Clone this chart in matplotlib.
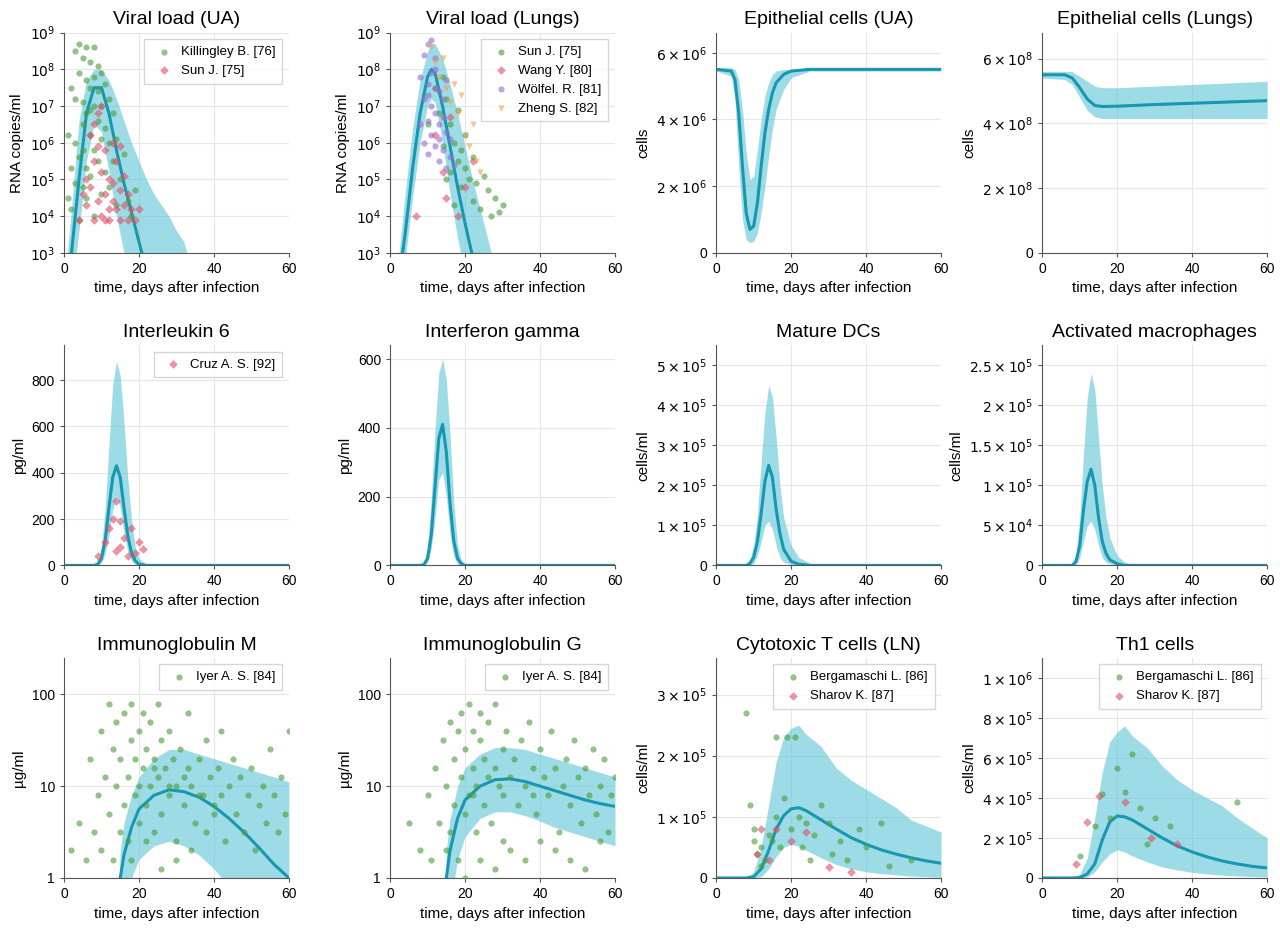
import numpy as np
import matplotlib
matplotlib.use("Agg")
import matplotlib.pyplot as plt
from matplotlib.ticker import FixedLocator, FuncFormatter

plt.rcParams['font.family'] = ['Liberation Sans', 'DejaVu Sans']
LINE = '#1797b0'
BAND = '#5cc6d6'
GREEN = '#4a9e3a'
RED = '#e0506a'
PURPLE = '#9a6bd0'
ORANGE = '#f2a04a'

t_vua = [0, 2, 4, 6, 8, 10, 12, 14, 16, 18, 20, 22, 24, 26, 28, 30, 32, 34]
vua_mean = [2, 3.0, 5.0, 6.8, 7.5, 7.5, 6.8, 5.8, 4.9, 4.1, 3.3, 2.5, 2, 2, 2, 2, 2, 2]
vua_hi = [2, 4.2, 6.6, 7.7, 8.0, 8.0, 7.7, 7.2, 6.6, 6.0, 5.5, 5.0, 4.6, 4.3, 4.0, 3.6, 3.3, 2.5]
vua_lo = [2, 2.0, 3.6, 5.5, 6.5, 6.3, 5.2, 4.0, 3.0, 2.0, 2, 2, 2, 2, 2, 2, 2, 2]

t_vlu = [0, 2, 4, 6, 8, 10, 11, 12, 14, 16, 18, 20, 22, 24, 26, 28]
vlu_mean = [2, 2.0, 3.5, 5.3, 6.8, 7.8, 8.0, 7.9, 7.0, 5.9, 4.8, 3.8, 2.9, 2, 2, 2]
vlu_hi = [2, 2.6, 4.6, 6.4, 7.7, 8.5, 8.7, 8.7, 8.3, 7.6, 6.8, 5.9, 5.0, 4.2, 3.4, 2.6]
vlu_lo = [2, 2.0, 2.8, 4.5, 6.0, 7.0, 7.2, 7.1, 6.0, 4.6, 3.4, 2.4, 2, 2, 2, 2]

t_eua = [0, 4, 5, 6, 7, 8, 9, 10, 11, 12, 13, 14, 15, 16, 18, 20, 25, 30, 40, 50, 60]
eua_mean = [5.5, 5.45, 5.2, 4.2, 2.6, 1.2, 0.7, 0.8, 1.5, 2.6, 3.6, 4.3, 4.8, 5.1, 5.35, 5.45, 5.5, 5.5, 5.5, 5.5, 5.5]
eua_hi = [5.55, 5.55, 5.5, 5.2, 4.3, 3.0, 2.2, 2.3, 3.1, 4.0, 4.7, 5.1, 5.35, 5.45, 5.5, 5.5, 5.5, 5.55, 5.55, 5.55, 5.55]
eua_lo = [5.45, 5.3, 4.6, 2.6, 1.0, 0.4, 0.3, 0.35, 0.6, 1.2, 2.0, 2.9, 3.7, 4.3, 4.9, 5.25, 5.45, 5.45, 5.45, 5.45, 5.45]

t_elu = [0, 6, 8, 10, 12, 14, 16, 20, 30, 40, 50, 60]
elu_mean = [5.5, 5.5, 5.4, 5.1, 4.75, 4.55, 4.52, 4.53, 4.58, 4.62, 4.66, 4.7]
elu_hi = [5.6, 5.6, 5.6, 5.45, 5.3, 5.15, 5.1, 5.1, 5.15, 5.2, 5.25, 5.3]
elu_lo = [5.4, 5.35, 5.2, 4.8, 4.4, 4.2, 4.15, 4.15, 4.15, 4.15, 4.15, 4.15]

t_pk = [0, 8, 9, 10, 11, 12, 13, 14, 15, 16, 17, 18, 19, 20, 22, 25, 60]
il6_mean = [0, 0, 5, 30, 110, 250, 380, 430, 380, 250, 130, 55, 20, 5, 0, 0, 0]
il6_hi = [0, 0, 15, 80, 250, 520, 780, 880, 820, 620, 380, 200, 80, 30, 5, 0, 0]
il6_lo = [0, 0, 0, 10, 50, 130, 240, 300, 250, 140, 60, 20, 5, 0, 0, 0, 0]
ifn_mean = [0, 0, 2, 20, 90, 230, 370, 410, 330, 180, 70, 20, 5, 0, 0, 0, 0]
ifn_hi = [0, 0, 8, 50, 200, 400, 560, 600, 540, 380, 180, 60, 15, 3, 0, 0, 0]
ifn_lo = [0, 0, 0, 8, 50, 140, 250, 270, 200, 90, 25, 5, 0, 0, 0, 0, 0]

t_dc = [0, 8, 9, 10, 11, 12, 13, 14, 15, 16, 17, 18, 20, 22, 25, 30, 60]
dc_mean = [0, 0, 0.05, 0.2, 0.6, 1.3, 2.1, 2.5, 2.2, 1.4, 0.8, 0.4, 0.1, 0.03, 0, 0, 0]
dc_hi = [0, 0.02, 0.15, 0.5, 1.3, 2.6, 3.8, 4.5, 4.2, 3.2, 2.0, 1.2, 0.5, 0.2, 0.05, 0, 0]
dc_lo = [0, 0, 0, 0.05, 0.25, 0.6, 1.0, 1.1, 0.9, 0.5, 0.2, 0.08, 0.02, 0, 0, 0, 0]
mac_mean = [0, 0, 0.05, 0.25, 0.7, 1.05, 1.2, 1.0, 0.6, 0.3, 0.15, 0.07, 0.02, 0, 0, 0, 0]
mac_hi = [0, 0.02, 0.15, 0.6, 1.4, 2.1, 2.4, 2.2, 1.6, 1.0, 0.6, 0.35, 0.12, 0.04, 0, 0, 0]
mac_lo = [0, 0, 0, 0.1, 0.3, 0.5, 0.55, 0.45, 0.25, 0.1, 0.04, 0.02, 0, 0, 0, 0, 0]

t_ig = [0, 14, 15, 16, 18, 20, 24, 28, 32, 36, 40, 44, 48, 52, 56, 60]
igm_mean = [-1, -1, 0.0, 0.25, 0.55, 0.75, 0.9, 0.96, 0.94, 0.88, 0.78, 0.65, 0.5, 0.33, 0.15, 0.0]
igm_hi = [-1, -1, 0.3, 0.6, 0.9, 1.1, 1.3, 1.4, 1.4, 1.35, 1.3, 1.25, 1.2, 1.15, 1.1, 1.05]
igm_lo = [-1, -1, -1, -0.5, 0.0, 0.2, 0.35, 0.4, 0.35, 0.25, 0.1, -0.1, -0.3, -0.5, -0.7, -0.9]
igg_mean = [-1, -1, 0.0, 0.3, 0.65, 0.85, 1.0, 1.07, 1.08, 1.05, 1.0, 0.95, 0.9, 0.85, 0.81, 0.78]
igg_hi = [-1, -1, 0.3, 0.65, 1.0, 1.2, 1.35, 1.42, 1.42, 1.4, 1.35, 1.3, 1.25, 1.2, 1.15, 1.1]
igg_lo = [-1, -1, -1, -0.3, 0.2, 0.45, 0.65, 0.72, 0.72, 0.68, 0.62, 0.55, 0.5, 0.45, 0.4, 0.35]

t_tc = [0, 8, 10, 12, 14, 16, 18, 20, 22, 24, 28, 32, 36, 40, 44, 48, 52, 56, 60]
ctl_mean = [0, 0, 0.02, 0.15, 0.45, 0.8, 1.02, 1.13, 1.15, 1.1, 0.95, 0.8, 0.66, 0.55, 0.46, 0.39, 0.33, 0.28, 0.24]
ctl_hi = [0, 0, 0.1, 0.5, 1.2, 1.9, 2.3, 2.45, 2.5, 2.35, 2.15, 1.8, 1.6, 1.45, 1.3, 1.15, 0.95, 0.85, 0.75]
ctl_lo = [0, 0, 0, 0.02, 0.15, 0.35, 0.5, 0.55, 0.52, 0.45, 0.33, 0.22, 0.15, 0.1, 0.07, 0.05, 0.03, 0.02, 0.01]
th1_mean = [0, 0, 0.02, 0.2, 0.7, 1.9, 2.8, 3.1, 3.05, 2.9, 2.45, 2.0, 1.6, 1.3, 1.05, 0.85, 0.7, 0.58, 0.5]
th1_hi = [0, 0, 0.2, 1.0, 3.0, 5.3, 6.8, 7.3, 7.6, 7.1, 6.5, 5.6, 4.9, 4.4, 4.0, 3.6, 3.0, 2.5, 2.0]
th1_lo = [0, 0, 0, 0.05, 0.3, 0.8, 1.2, 1.4, 1.3, 1.1, 0.8, 0.55, 0.4, 0.28, 0.2, 0.14, 0.1, 0.07, 0.05]

killingley_d = [1,1,2,2,2,3,3,3,3,4,4,4,4,5,5,5,5,5,6,6,6,6,6,7,7,7,7,7,8,8,8,8,8,9,9,9,9,10,10,10,10,11,11,11,12,12,12,13,13,14,14,15,16,17,18,19]
killingley_v = [4.5,6.2,5.3,7.5,4.2,8.5,6.0,4.9,7.2,3.9,5.6,7.9,8.7,4.8,6.5,7.1,8.3,5.8,5.3,6.8,7.7,8.6,4.5,5.1,6.2,7.5,8.2,6.9,4.0,5.8,7.0,7.8,8.6,5.5,6.6,7.4,8.1,4.6,6.1,7.0,7.9,5.2,6.4,7.6,4.8,6.0,7.2,5.5,6.8,4.3,6.1,5.0,5.7,4.4,4.0,4.7]
sunua_d = [4,5,6,6,7,7,8,8,9,9,9,10,10,10,11,11,12,12,13,13,13,14,14,15,15,16,16,17,17,18,19,20,8,11,12,15]
sunua_v = [3.9,4.6,5.0,4.3,6.2,4.8,5.5,3.9,4.4,5.9,6.8,4.0,5.2,7.0,4.6,5.8,3.9,5.0,4.4,6.0,4.9,4.2,5.5,3.9,4.7,4.3,5.1,3.9,4.6,4.2,3.9,4.2,6.5,3.9,4.2,5.9]
sunlu_d = [10,12,13,14,14,15,16,16,17,18,18,19,20,20,21,22,22,23,24,25,26,27,28,29,30,15,17,19]
sunlu_v = [6.5,7.5,6.8,7.8,5.9,7.2,6.5,5.2,6.0,5.5,6.9,4.8,5.3,6.2,5.0,4.4,5.6,4.9,4.2,5.1,4.7,4.0,4.5,4.1,4.3,5.0,4.3,5.8]
wang_d = [7, 12, 14, 15, 16, 18, 20, 22]
wang_v = [4.0, 6.2, 5.2, 4.5, 6.7, 4.0, 4.8, 5.5]
wolfel_d = [8,8,9,9,9,10,10,10,10,11,11,11,11,12,12,12,12,13,13,13,14,14,14,15,15,16,16,17,10,12,13,15]
wolfel_v = [6.5,7.8,6.0,7.2,8.4,5.7,6.6,7.6,8.7,6.2,7.0,7.9,8.8,5.9,6.8,7.5,8.3,5.5,6.5,7.4,5.8,6.7,7.2,5.3,6.3,5.6,6.1,5.4,7.3,8.0,6.1,7.7]
zheng_d = [11, 12, 13, 14, 15, 16, 17, 18, 19, 20, 21, 22, 23, 24]
zheng_v = [8.6, 8.2, 7.8, 8.3, 7.5, 7.1, 7.6, 6.8, 7.3, 6.2, 5.9, 6.5, 5.5, 5.2]
cruz_d = [9, 11, 12, 13, 14, 14, 15, 15, 16, 17, 18, 19, 20, 21]
cruz_v = [40, 100, 160, 200, 280, 60, 190, 80, 120, 40, 160, 55, 100, 70]
igm_d = [2,4,6,7,8,9,10,10,11,12,12,13,13,14,14,15,15,16,16,17,17,18,18,19,19,20,20,21,21,22,22,23,23,24,24,25,25,26,26,27,28,28,29,30,30,31,32,33,33,34,35,36,37,38,38,39,40,41,42,42,43,44,45,46,47,48,49,50,51,52,53,54,55,56,57,58,59,60,18,22,26,30,34,20,24,28,32,36,40]
igm_v = [0.3,0.6,0.2,1.3,0.5,0.9,1.6,0.3,1.1,0.7,1.9,1.4,0.2,1.0,1.7,0.5,1.3,1.8,0.8,1.1,0.4,1.5,1.9,0.9,1.3,1.6,0.6,1.2,1.8,0.8,1.4,1.0,1.7,0.5,1.3,1.1,1.9,0.7,1.5,1.2,0.9,1.6,1.3,0.4,1.0,1.4,0.8,1.2,1.8,1.0,0.6,1.3,0.9,1.5,0.5,1.1,0.7,1.2,0.9,1.6,0.4,1.0,1.3,0.7,1.1,0.5,0.9,1.2,0.3,0.8,1.0,0.6,1.4,0.9,0.5,1.1,0.7,1.6,0.2,0.4,0.1,0.2,0.3,1.0,1.2,1.0,1.1,0.9,0.8]
igg_d = [5,8,10,11,12,13,14,15,15,16,16,17,17,18,18,19,19,20,20,21,21,22,22,23,23,24,24,25,25,26,26,27,28,28,29,30,30,31,32,33,34,35,36,37,38,39,40,41,42,43,44,45,46,47,48,49,50,51,52,53,54,55,56,57,58,59,60,20,24,28,32,36,40,44,48,52,56,22,30,38]
igg_v = [0.6,0.3,0.9,0.2,1.2,0.6,1.5,0.3,1.0,1.7,0.5,1.3,0.8,1.6,0.2,1.1,1.8,0.7,1.4,1.9,0.9,1.2,1.6,0.5,1.0,1.5,1.8,0.8,1.3,1.1,1.7,0.6,1.2,1.9,1.0,1.4,0.4,1.6,1.1,1.3,0.8,1.5,1.0,1.7,1.2,0.7,1.4,1.1,0.9,1.6,1.2,0.5,1.0,1.3,0.8,1.5,1.1,0.6,1.2,0.9,1.4,0.7,1.0,1.3,0.5,0.9,1.1,0.0,0.2,0.1,0.3,0.2,0.4,0.3,0.2,0.1,0.4,0.9,0.9,0.9]
berg_d = [8,9,10,11,12,13,14,15,16,17,18,19,20,21,22,23,24,25,26,28,30,31,33,35,38,40,44,46,52,10,12,16]
berg_v = [2.7,1.2,0.8,0.4,0.5,0.3,0.7,0.6,2.3,0.5,1.3,2.3,0.8,2.3,1.0,0.5,0.9,0.3,0.7,1.2,0.9,0.4,0.6,0.3,0.8,0.5,0.9,0.2,0.3,0.6,0.2,1.0]
sharov_d = [11, 12, 14, 16, 20, 24, 30, 36]
sharov_v = [0.4, 0.8, 0.3, 0.8, 0.6, 0.75, 0.18, 0.1]
bergt_d = [10, 14, 16, 18, 20, 22, 24, 26, 28, 30, 34, 52]
bergt_v = [1.1, 2.6, 4.2, 3.0, 5.5, 4.3, 6.2, 3.5, 1.7, 3.0, 2.6, 3.8]
sharovt_d = [9, 12, 15, 22, 29, 36]
sharovt_v = [0.7, 2.8, 4.1, 3.8, 2.0, 1.7]

fig, axes = plt.subplots(3, 4, figsize=(12.8, 9.34), dpi=100)
fig.subplots_adjust(left=0.05, right=0.99, top=0.965, bottom=0.06, wspace=0.45, hspace=0.42)

def sci(v, pos, e):
    if v == 0:
        return '0'
    m = v / 10**e
    return r'$%s\times10^{%d}$' % ('%g' % m, e)

def style(ax, title, ylabel):
    ax.set_title(title, fontsize=14)
    ax.set_ylabel(ylabel, fontsize=11)
    ax.set_xlabel('time, days after infection', fontsize=11)
    ax.set_xlim(0, 60)
    ax.set_xticks([0, 20, 40, 60])
    for s in ['top', 'right']:
        ax.spines[s].set_visible(False)
    for s in ['left', 'bottom']:
        ax.spines[s].set_color('#555555')
    ax.grid(True, color='#e6e6e6', lw=0.8)
    ax.set_axisbelow(True)
    ax.tick_params(labelsize=10, length=3, color='#555555')

def curve(ax, t, m, lo, hi, scale=1.0, log=False):
    t = np.array(t, float)
    f = (lambda a: 10**np.array(a, float)) if log else (lambda a: np.array(a, float) * scale)
    ax.fill_between(t, f(lo), f(hi), color=BAND, alpha=0.6, lw=0)
    ax.plot(t, f(m), color=LINE, lw=2.2)

def pts(ax, d, v, c, mk, label, scale=1.0, log=False):
    v = 10**np.array(v, float) if log else np.array(v, float) * scale
    ax.scatter(d, v, s=16 if mk == 'o' else 16, c=c, marker=mk, alpha=0.6, lw=0.3, edgecolors=c, label=label, zorder=3)

def leg(ax):
    ax.legend(loc='upper right', fontsize=9.5, frameon=True, edgecolor='#cccccc', fancybox=False, handletextpad=0.3, borderpad=0.5)

def logy(ax, lo_e, hi_e):
    ax.set_yscale('log')
    ax.set_ylim(10**lo_e, 10**hi_e)
    ax.yaxis.set_major_locator(FixedLocator([10**k for k in range(lo_e, hi_e + 1)]))
    ax.yaxis.set_minor_locator(FixedLocator([]))
    ax.yaxis.set_major_formatter(FuncFormatter(lambda v, p: r'$10^{%d}$' % round(np.log10(v))))

ax = axes[0, 0]
curve(ax, t_vua, vua_mean, vua_lo, vua_hi, log=True)
pts(ax, killingley_d, killingley_v, GREEN, 'o', 'Killingley B. [76]', log=True)
pts(ax, sunua_d, sunua_v, RED, 'D', 'Sun J. [75]', log=True)
style(ax, 'Viral load (UA)', 'RNA copies/ml'); logy(ax, 3, 9); leg(ax)

ax = axes[0, 1]
curve(ax, t_vlu, vlu_mean, vlu_lo, vlu_hi, log=True)
pts(ax, sunlu_d, sunlu_v, GREEN, 'o', 'Sun J. [75]', log=True)
pts(ax, wang_d, wang_v, RED, 'D', 'Wang Y. [80]', log=True)
pts(ax, wolfel_d, wolfel_v, PURPLE, 'o', 'Wölfel. R. [81]', log=True)
pts(ax, zheng_d, zheng_v, ORANGE, 'v', 'Zheng S. [82]', log=True)
style(ax, 'Viral load (Lungs)', 'RNA copies/ml'); logy(ax, 3, 9); leg(ax)

ax = axes[0, 2]
curve(ax, t_eua, eua_mean, eua_lo, eua_hi, scale=1e6)
style(ax, 'Epithelial cells (UA)', 'cells')
ax.set_ylim(0, 6.6e6); ax.set_yticks([0, 2e6, 4e6, 6e6])
ax.yaxis.set_major_formatter(FuncFormatter(lambda v, p: sci(v, p, 6)))

ax = axes[0, 3]
curve(ax, t_elu, elu_mean, elu_lo, elu_hi, scale=1e8)
style(ax, 'Epithelial cells (Lungs)', 'cells')
ax.set_ylim(0, 6.8e8); ax.set_yticks([0, 2e8, 4e8, 6e8])
ax.yaxis.set_major_formatter(FuncFormatter(lambda v, p: sci(v, p, 8)))

ax = axes[1, 0]
curve(ax, t_pk, il6_mean, il6_lo, il6_hi)
pts(ax, cruz_d, cruz_v, RED, 'D', 'Cruz A. S. [92]')
style(ax, 'Interleukin 6', 'pg/ml'); ax.set_ylim(0, 950); ax.set_yticks([0, 200, 400, 600, 800]); leg(ax)

ax = axes[1, 1]
curve(ax, t_pk, ifn_mean, ifn_lo, ifn_hi)
style(ax, 'Interferon gamma', 'pg/ml'); ax.set_ylim(0, 640); ax.set_yticks([0, 200, 400, 600])

ax = axes[1, 2]
curve(ax, t_dc, dc_mean, dc_lo, dc_hi, scale=1e5)
style(ax, 'Mature DCs', 'cells/ml'); ax.set_ylim(0, 5.5e5); ax.set_yticks([0, 1e5, 2e5, 3e5, 4e5, 5e5])
ax.yaxis.set_major_formatter(FuncFormatter(lambda v, p: sci(v, p, 5)))

ax = axes[1, 3]
curve(ax, t_dc, mac_mean, mac_lo, mac_hi, scale=1e5)
style(ax, 'Activated macrophages', 'cells/ml'); ax.set_ylim(0, 2.75e5)
ax.set_yticks([0, 5e4, 1e5, 1.5e5, 2e5, 2.5e5])
ax.yaxis.set_major_formatter(FuncFormatter(lambda v, p: '0' if v == 0 else sci(v, p, 4 if v < 1e5 else 5)))

for ax, m, lo, hi, d, v, title in [
        (axes[2, 0], igm_mean, igm_lo, igm_hi, igm_d, igm_v, 'Immunoglobulin M'),
        (axes[2, 1], igg_mean, igg_lo, igg_hi, igg_d, igg_v, 'Immunoglobulin G')]:
    curve(ax, t_ig, m, lo, hi, log=True)
    pts(ax, d, v, GREEN, 'o', 'Iyer A. S. [84]', log=True)
    style(ax, title, 'µg/ml')
    ax.set_yscale('log'); ax.set_ylim(1, 250)
    ax.yaxis.set_major_locator(FixedLocator([1, 10, 100]))
    ax.yaxis.set_minor_locator(FixedLocator([]))
    ax.yaxis.set_major_formatter(FuncFormatter(lambda v, p: '%d' % v))
    leg(ax)

ax = axes[2, 2]
curve(ax, t_tc, ctl_mean, ctl_lo, ctl_hi, scale=1e5)
pts(ax, berg_d, berg_v, GREEN, 'o', 'Bergamaschi L. [86]', scale=1e5)
pts(ax, sharov_d, sharov_v, RED, 'D', 'Sharov K. [87]', scale=1e5)
style(ax, 'Cytotoxic T cells (LN)', 'cells/ml'); ax.set_ylim(0, 3.6e5); ax.set_yticks([0, 1e5, 2e5, 3e5])
ax.yaxis.set_major_formatter(FuncFormatter(lambda v, p: sci(v, p, 5))); leg(ax)

ax = axes[2, 3]
curve(ax, t_tc, th1_mean, th1_lo, th1_hi, scale=1e5)
pts(ax, bergt_d, bergt_v, GREEN, 'o', 'Bergamaschi L. [86]', scale=1e5)
pts(ax, sharovt_d, sharovt_v, RED, 'D', 'Sharov K. [87]', scale=1e5)
style(ax, 'Th1 cells', 'cells/ml'); ax.set_ylim(0, 1.1e6); ax.set_yticks([0, 2e5, 4e5, 6e5, 8e5, 1e6])
ax.yaxis.set_major_formatter(FuncFormatter(lambda v, p: '0' if v == 0 else sci(v, p, 6 if v >= 1e6 else 5))); leg(ax)

fig.savefig('out.png', dpi=100)
